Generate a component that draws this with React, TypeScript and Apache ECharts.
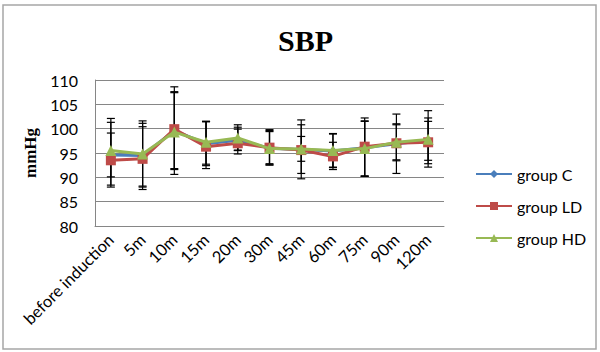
import React, { useEffect, useRef } from "react";
import * as echarts from "echarts";

const categories = ["before induction", "5m", "10m", "15m", "20m", "30m", "45m", "60m", "75m", "90m", "120m"];
const yTicks = [80, 85, 90, 95, 100, 105, 110];

const groupC = [94.6, 94.5, 99.6, 96.9, 97.6, 96.0, 95.7, 95.4, 96.1, 96.9, 97.6];
const groupLD = [93.5, 93.8, 99.9, 96.3, 97.0, 96.1, 95.6, 94.3, 96.3, 97.0, 97.2];
const groupHD = [95.5, 94.8, 99.3, 97.2, 98.1, 95.9, 95.8, 95.5, 95.9, 97.2, 97.8];

const groupCHigh = [101.3, 101.1, 107.6, 101.4, 100.3, 99.4, 100.8, 99.0, 101.5, 100.8, 102.2];
const groupCLow = [88.0, 88.2, 91.6, 92.4, 95.5, 92.5, 90.8, 92.1, 90.3, 93.6, 92.8];
const groupLDHigh = [99.1, 100.4, 108.6, 101.5, 99.9, 99.8, 101.8, 97.2, 102.2, 103.0, 101.5];
const groupLDLow = [88.4, 87.5, 90.6, 91.8, 94.8, 92.8, 89.7, 91.6, 90.2, 90.8, 93.5];
const groupHDHigh = [102.1, 101.6, 107.4, 101.5, 100.8, 99.6, 98.4, 98.9, 101.6, 101.0, 103.7];
const groupHDLow = [90.1, 88.0, 91.8, 92.7, 95.6, 92.6, 93.3, 92.0, 90.2, 93.4, 92.1];

const seriesNames = ["group C", "group LD", "group HD"];
const colors = ["#4A7EBB", "#BE4B48", "#98B954"];

const errData = (low: number[], high: number[]) => low.map((l, i) => [i, l, high[i]]);

const renderErr = (params: any, api: any) => {
  const x = api.value(0);
  const lo = api.coord([x, api.value(1)]);
  const hi = api.coord([x, api.value(2)]);
  const w = 4;
  const st = { stroke: "#000", lineWidth: 1.2 };
  return {
    type: "group",
    children: [
      { type: "line", shape: { x1: lo[0], y1: lo[1], x2: hi[0], y2: hi[1] }, style: st },
      { type: "line", shape: { x1: hi[0] - w, y1: hi[1], x2: hi[0] + w, y2: hi[1] }, style: st },
      { type: "line", shape: { x1: lo[0] - w, y1: lo[1], x2: lo[0] + w, y2: lo[1] }, style: st },
    ],
  };
};

export default function App() {
  const ref = useRef<HTMLDivElement>(null);
  useEffect(() => {
    if (!ref.current) return;
    const chart = echarts.init(ref.current, undefined, { renderer: "svg" });
    const errSeries = [
      [groupCLow, groupCHigh],
      [groupLDLow, groupLDHigh],
      [groupHDLow, groupHDHigh],
    ].map(([l, h], k) => ({
      type: "custom",
      name: "err" + k,
      renderItem: renderErr,
      data: errData(l, h),
      encode: { x: 0, y: [1, 2] },
      z: 1,
      silent: true,
    }));
    const vals = [groupC, groupLD, groupHD];
    const symbols = ["diamond", "rect", "triangle"];
    const sizes = [9, 10, 11];
    const lineSeries = vals.map((v, k) => ({
      type: "line",
      name: seriesNames[k],
      data: v,
      symbol: symbols[k],
      symbolSize: sizes[k],
      itemStyle: { color: colors[k] },
      lineStyle: { color: colors[k], width: 3 },
      z: 2 + k,
    }));
    chart.setOption({
      animation: false,
      backgroundColor: "#fff",
      title: {
        text: "SBP",
        left: 273,
        top: 20,
        textStyle: { fontFamily: "Liberation Serif", fontWeight: "bold", fontSize: 30, color: "#000" },
      },
      legend: {
        data: seriesNames,
        orient: "vertical",
        left: 470,
        top: 161,
        itemWidth: 36,
        itemHeight: 10,
        itemGap: 16,
        textStyle: { fontFamily: "Lato", fontSize: 16, color: "#000" },
      },
      grid: { left: 95, right: 156, top: 80, bottom: 126 },
      xAxis: {
        type: "category",
        data: categories,
        boundaryGap: true,
        axisLine: { lineStyle: { color: "#868686", width: 1 } },
        axisTick: { show: false },
        axisLabel: { rotate: 45, fontFamily: "Lato", fontSize: 16.5, color: "#000", margin: 11, interval: 0 },
      },
      yAxis: {
        type: "value",
        min: yTicks[0],
        max: yTicks[yTicks.length - 1],
        interval: 5,
        name: "mmHg",
        nameLocation: "middle",
        nameRotate: 90,
        nameGap: 56,
        nameTextStyle: { fontFamily: "Liberation Serif", fontWeight: "bold", fontSize: 17, color: "#000" },
        axisLine: { show: true, lineStyle: { color: "#868686", width: 1 } },
        axisTick: { show: false },
        splitLine: { lineStyle: { color: "#868686", width: 1 } },
        axisLabel: { fontFamily: "Lato", fontSize: 16, color: "#000", margin: 17 },
      },
      graphic: [
        {
          type: "rect",
          shape: { x: 3, y: 5, width: 593, height: 344 },
          style: { fill: "none", stroke: "#A6A6A6", lineWidth: 1.5 },
          silent: true,
        },
      ],
      series: [...errSeries, ...lineSeries],
    });
    return () => chart.dispose();
  }, []);
  return <div ref={ref} style={{ position: "fixed", left: 0, top: 0, width: 600, height: 352 }} />;
}
